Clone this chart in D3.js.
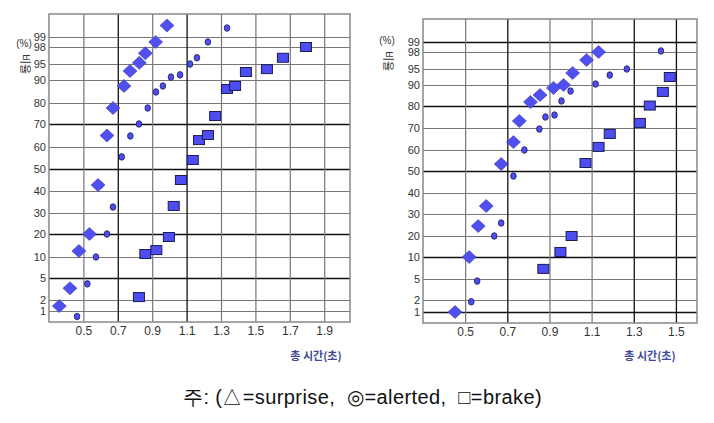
<!DOCTYPE html>
<html>
<head>
<meta charset="utf-8">
<script src="https://cdnjs.cloudflare.com/ajax/libs/d3/7.8.5/d3.min.js"></script>
<style>
  body { margin: 0; background: #fff; }
  .tick text { font-family: "Liberation Sans", Arial, sans-serif; font-size: 12px; fill: #333; }
  .yax .tick text { font-size: 11px; }
  .domain { display: none; }
</style>
</head>
<body>
<div class="canvas"></div>
<script>

// probability ticks (%) and time ticks (s)
var yTicks = [1, 2, 5, 10, 20, 30, 40, 50, 60, 70, 80, 90, 95, 98, 99];
var yDomain = [0.5, 1, 2, 5, 10, 20, 30, 40, 50, 60, 70, 80, 90, 95, 98, 99, 99.9];
var xTicksLeft = [0.5, 0.7, 0.9, 1.1, 1.3, 1.5, 1.7, 1.9];
var xTicksRight = [0.5, 0.7, 0.9, 1.1, 1.3, 1.5];

// left panel
var surpriseL = [[0.36, 1.45], [0.422, 3.6], [0.474, 12.6], [0.535, 20], [0.585, 42.7], [0.637, 65], [0.672, 77.6],
	[0.736, 87.4], [0.771, 92.8], [0.825, 95.2], [0.86, 96.9], [0.92, 98.5], [0.986, 99.45]];
var alertedL = [[0.463, 0.75], [0.523, 4.2], [0.573, 10], [0.637, 20], [0.672, 32.7], [0.597, 42.7], [0.723, 55.5],
	[0.773, 64.8], [0.823, 70], [0.874, 77.6], [0.922, 84.8], [0.962, 87.4], [1.009, 90.9], [1.062, 91.6],
	[1.12, 95], [1.16, 96.1], [1.224, 98.5], [1.335, 99.35]];
var brakeL = [[0.823, 2.4], [0.86, 11.3], [0.924, 13], [0.997, 18.7], [1.025, 33.2], [1.067, 45], [1.136, 54.1],
	[1.172, 63], [1.224, 65.2], [1.266, 73.8], [1.335, 86.1], [1.382, 87.4], [1.445, 92.5], [1.567, 93.4],
	[1.66, 96.1], [1.794, 98]];

// right panel
var surpriseR = [[0.452, 1], [0.519, 10], [0.562, 24.5], [0.6, 33.8], [0.671, 53.3], [0.729, 63.6], [0.757, 73.2],
	[0.81, 81.9], [0.855, 85.2], [0.919, 88.6], [0.967, 90], [1.01, 93.75], [1.076, 96.6], [1.133, 98]];
var alertedR = [[0.529, 1.85], [0.557, 4.7], [0.638, 20], [0.671, 25.9], [0.729, 47.7], [0.781, 60], [0.852, 69.5],
	[0.881, 75], [0.924, 75.9], [0.957, 82.4], [1.0, 87.1], [1.119, 90.3], [1.186, 93.1], [1.267, 95], [1.429, 98.1]];
var brakeR = [[0.871, 7.3], [0.952, 12.4], [1.005, 20], [1.071, 53.8], [1.133, 61.4], [1.186, 67.3],
	[1.329, 72.3], [1.376, 80.2], [1.438, 86.7], [1.471, 92.5]];

var svg = d3.select(".canvas")
				.append("svg")
				.attr("width", 714)
				.attr("height", 423);

function drawPanel(p){
	var x = d3.scaleLinear().domain(p.xDomain).range([p.left, p.right]);
	var y = d3.scaleLinear().domain(yDomain).range(p.yRange);

	var g = svg.append("g");

	// horizontal grid + labels
	var ya = g.append("g")
		.attr("class", "yax")
		.attr("transform", "translate(" + p.left + ",0)")
		.call(d3.axisLeft(y).tickValues(yTicks).tickSize(-(p.right - p.left)).tickPadding(3).tickFormat(d3.format("d")));
	ya.selectAll(".tick line")
		.attr("stroke", function(d){ return p.darkY.indexOf(d) >= 0 ? "#111" : "#777"; })
		.attr("stroke-width", function(d){ return p.darkY.indexOf(d) >= 0 ? 1.3 : 1; });

	// vertical grid + labels
	var xa = g.append("g")
		.attr("transform", "translate(0," + p.bottom + ")")
		.call(d3.axisBottom(x).tickValues(p.xTicks).tickSize(-(p.bottom - p.top)).tickPadding(4).tickFormat(d3.format(".1f")));
	xa.selectAll(".tick line")
		.attr("stroke", function(d){ return p.darkX.indexOf(d) >= 0 ? "#111" : "#777"; })
		.attr("stroke-width", function(d){ return p.darkX.indexOf(d) >= 0 ? 1.3 : 1.2; });

	// frame
	g.append("rect")
		.attr("x", p.left)
		.attr("y", p.top)
		.attr("width", p.right - p.left)
		.attr("height", p.bottom - p.top)
		.attr("fill", "none")
		.attr("stroke", "#888")
		.attr("stroke-width", 1.5);

	// brake (squares)
	g.selectAll(".brake")
		.data(p.brake)
		.enter().append("rect")
		.attr("x", function(d){ return x(d[0]) - 5.5; })
		.attr("y", function(d){ return y(d[1]) - 4.5; })
		.attr("width", 11)
		.attr("height", 9)
		.attr("fill", "#4d4df2")
		.attr("stroke", "#1c1c55")
		.attr("stroke-width", 1);

	// alerted (small dots)
	g.selectAll(".alerted")
		.data(p.alerted)
		.enter().append("ellipse")
		.attr("cx", function(d){ return x(d[0]); })
		.attr("cy", function(d){ return y(d[1]); })
		.attr("rx", 2.8)
		.attr("ry", 3.3)
		.attr("fill", "#4d4df2")
		.attr("stroke", "#1c1c55")
		.attr("stroke-width", 0.8);

	// surprise (diamonds)
	g.selectAll(".surprise")
		.data(p.surprise)
		.enter().append("path")
		.attr("d", function(d){
			var cx = x(d[0]), cy = y(d[1]);
			return "M" + (cx - 7) + "," + cy + "L" + cx + "," + (cy - 6.5) + "L" + (cx + 7) + "," + cy + "L" + cx + "," + (cy + 6.5) + "Z";
		})
		.attr("fill", "#5050f0")
		.attr("stroke", "#3a3ab0")
		.attr("stroke-width", 0.6);

	// y title
	g.append("text")
		.attr("x", p.yTitleX)
		.attr("y", p.yTitle)
		.attr("text-anchor", "middle")
		.style("font-family", "Liberation Sans, sans-serif")
		.style("font-size", "10px")
		.attr("fill", "#333")
		.text("(%)");
	g.append("text")
		.attr("transform", "translate(" + (p.yTitleX - 3) + "," + (p.yTitle + 17) + ") rotate(90)")
		.attr("text-anchor", "middle")
		.style("font-family", "Noto Sans CJK KR, sans-serif")
		.style("font-size", "11px")
		.attr("fill", "#333")
		.text("비율");

	// x title
	g.append("text")
		.attr("x", p.xTitleX)
		.attr("y", 360)
		.attr("text-anchor", "middle")
		.style("font-family", "Noto Sans CJK KR, sans-serif")
		.style("font-size", "11px")
		.style("font-weight", "bold")
		.attr("fill", "#3b4896")
		.text("총 시간(초)");
}

drawPanel({
	left: 49, right: 350, top: 14, bottom: 322,
	xDomain: [0.3, 2.05], xTicks: xTicksLeft,
	yRange: [322, 311, 300, 278, 257, 234, 213, 191, 169, 147, 124, 103, 80, 64, 47, 37, 14],
	darkY: [70, 50, 20, 5], darkX: [0.7, 1.1],
	surprise: surpriseL, alerted: alertedL, brake: brakeL,
	yTitle: 47, yTitleX: 24, xTitleX: 316
});

drawPanel({
	left: 423, right: 697, top: 19, bottom: 323,
	xDomain: [0.3, 1.6], xTicks: xTicksRight,
	yRange: [323, 312, 300, 279, 257, 236, 214, 193, 171, 150, 128, 106, 85, 69, 52, 42, 19],
	darkY: [99, 80, 50, 10, 1], darkX: [0.7, 1.3, 1.5],
	surprise: surpriseR, alerted: alertedR, brake: brakeR,
	yTitle: 44, yTitleX: 387, xTitleX: 650
});

// caption
svg.append("text")
	.attr("x", 183)
	.attr("y", 404)
	.style("font-family", "Liberation Sans, sans-serif")
	.style("font-size", "20px")
	.style("letter-spacing", "0.4px")
	.style("white-space", "pre")
	.attr("fill", "#111")
	.text("주: (△=surprise,  ◎=alerted,  □=brake)");

</script>
</body>
</html>
